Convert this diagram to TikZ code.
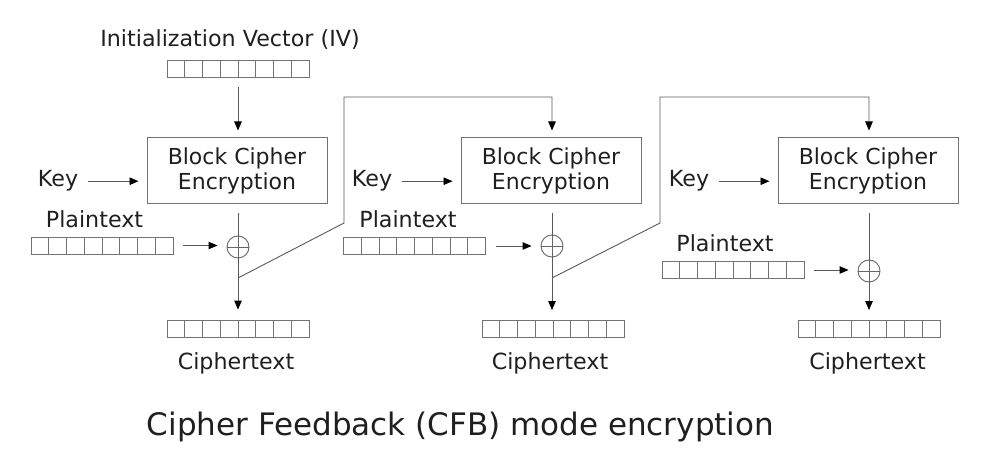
\documentclass[tikz,border=0pt]{standalone}
\usepackage{fontspec}
\setmainfont{DejaVu Sans}
\usetikzlibrary{arrows.meta,calc}
\begin{document}
\begin{tikzpicture}[x=1pt,y=-1pt,
  lbl/.style={inner sep=0pt, anchor=base, font=\fontsize{22.2}{26}\selectfont, text=black!88},
  reg/.style={draw=black!55, line width=0.9pt, minimum width=142pt, minimum height=17pt, inner sep=0pt,
    path picture={\foreach \i in {1,...,7}{\draw[black!55,line width=0.9pt]
      ($(path picture bounding box.north west)!\i/8!(path picture bounding box.north east)$) --
      ($(path picture bounding box.south west)!\i/8!(path picture bounding box.south east)$);}}},
  blk/.style={draw=black!55, line width=1pt, minimum width=180pt, minimum height=66pt, inner sep=0pt,
    align=center, font=\fontsize{22}{24.5}\selectfont, text=black!88},
  xor/.style={draw=black!60, line width=0.9pt, circle, minimum size=22pt, inner sep=0pt,
    path picture={\draw[black!60,line width=0.9pt] (path picture bounding box.north) -- (path picture bounding box.south)
      (path picture bounding box.west) -- (path picture bounding box.east);}},
  ln/.style={draw=black!65, line width=0.9pt},
  arr/.style={ln, -{Triangle[length=9pt,width=7.5pt,color=black]}},
]
\useasboundingbox (0,0) rectangle (1006,454);

% column 1
\node[lbl] (ivl) at (230,47) {Initialization Vector (IV)};
\node[reg] (iv) at (238,68.5) {};
\node[blk] (b1) at (237,171) {Block Cipher\\Encryption};
\node[lbl] (k1) at (58,187) {Key};
\node[lbl] (pl1) at (94.5,228) {Plaintext};
\node[reg] (p1) at (102,245.5) {};
\node[xor] (x1) at (238,247) {};
\node[reg] (c1) at (238,328.5) {};
\node[lbl] (cl1) at (236,369) {Ciphertext};

% column 2
\node[blk] (b2) at (551,171) {Block Cipher\\Encryption};
\node[lbl] (k2) at (372,187) {Key};
\node[lbl] (pl2) at (408,228) {Plaintext};
\node[reg] (p2) at (414.5,246) {};
\node[xor] (x2) at (552,246) {};
\node[reg] (c2) at (553,329) {};
\node[lbl] (cl2) at (550,369) {Ciphertext};

% column 3
\node[blk] (b3) at (868,171) {Block Cipher\\Encryption};
\node[lbl] (k3) at (689,187) {Key};
\node[lbl] (pl3) at (725,252) {Plaintext};
\node[reg] (p3) at (733,270) {};
\node[xor] (x3) at (869,271) {};
\node[reg] (c3) at (869,329) {};
\node[lbl] (cl3) at (867.5,369) {Ciphertext};

% title
\node[inner sep=0pt, anchor=base, font=\fontsize{31}{36}\selectfont, text=black!88] (title) at (460.5,435)
  {Cipher Feedback (CFB) mode encryption};

% feedback coordinates
\coordinate (j1) at (238,278);
\coordinate (f1a) at (344,223);
\coordinate (f1b) at (344,97);
\coordinate (j2) at (552,278);
\coordinate (f2a) at (660,223);
\coordinate (f2b) at (660,97);

% connectors
\draw[arr] ([yshift=-10pt]iv.south) -- ([yshift=7pt]iv.south |- b1.north);
\foreach \k/\b in {k1/b1,k2/b2,k3/b3}{
  \draw[arr, shorten >=8pt] ([xshift=10pt]\k.east) -- (\k.east -| \b.west);
}
\foreach \p/\x in {p1/x1,p2/x2,p3/x3}{
  \draw[arr, shorten >=9pt] ([xshift=10pt]\p.east) -- (\p.east -| \x.west);
}
\foreach \b/\x/\c in {b1/x1/c1,b2/x2/c2,b3/x3/c3}{
  \draw[ln] ([yshift=-9pt]\x.north |- \b.south) -- (\x.north);
  \draw[arr] (\x.south) -- ([yshift=10pt]\x.south |- \c.north);
}
\draw[arr] (j1) -- (f1a) -- (f1b) -- (f1b -| x2.north) -- ([yshift=7pt]x2.north |- b2.north);
\draw[arr] (j2) -- (f2a) -- (f2b) -- (f2b -| x3.north) -- ([yshift=7pt]x3.north |- b3.north);
\end{tikzpicture}
\end{document}
